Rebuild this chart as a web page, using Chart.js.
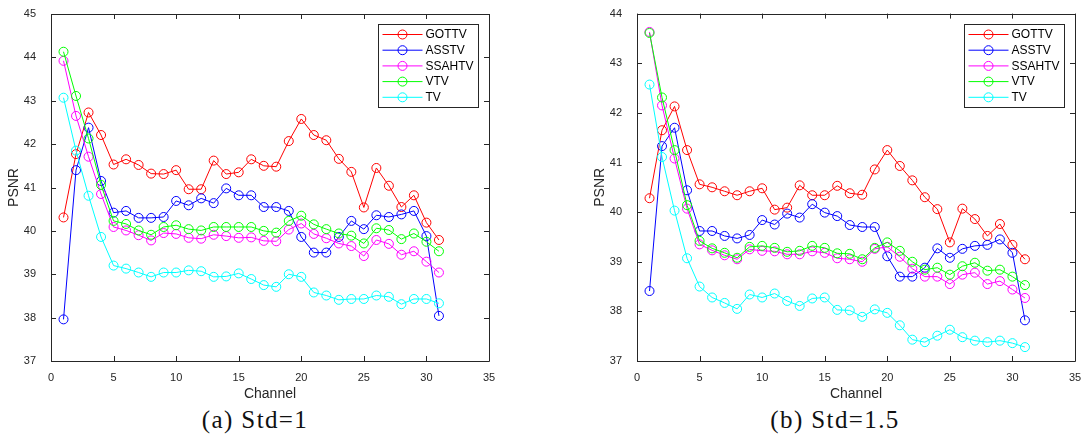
<!DOCTYPE html>
<html>
<head>
<meta charset="utf-8">
<script src="https://cdn.jsdelivr.net/npm/chart.js@4"></script>
<style>
body { margin:0; background:#fff; width:1086px; height:439px; position:relative; overflow:hidden; }
.box { position:absolute; top:0; width:543px; height:405px; }
.cap { position:absolute; top:407px; font-family:"Liberation Serif","DejaVu Serif",serif; font-size:25px; line-height:25px; letter-spacing:1.4px; color:#111; transform:translateX(-50%); white-space:nowrap; }
</style>
</head>
<body>
<div class="box" style="left:0"><canvas id="chartA"></canvas></div>
<div class="box" style="left:543px"><canvas id="chartB"></canvas></div>
<div class="cap" style="left:255px">(a) Std=1</div>
<div class="cap" style="left:835px">(b) Std=1.5</div>
<script>
var channels = [1,2,3,4,5,6,7,8,9,10,11,12,13,14,15,16,17,18,19,20,21,22,23,24,25,26,27,28,29,30,31];
var methods = ['GOTTV', 'ASSTV', 'SSAHTV', 'VTV', 'TV'];
var colors = ['#ff0000', '#0000ff', '#ff00ff', '#00ff00', '#00ffff'];
var xTicks = [0, 5, 10, 15, 20, 25, 30, 35];

// Std = 1
var gottv1  = [40.31,41.77,42.73,42.21,41.53,41.65,41.52,41.32,41.31,41.40,40.96,40.96,41.62,41.31,41.35,41.65,41.50,41.48,42.07,42.58,42.21,42.09,41.66,41.36,40.54,41.45,41.04,40.55,40.82,40.19,39.79];
var asstv1  = [37.96,41.40,42.38,41.15,40.42,40.46,40.30,40.30,40.32,40.69,40.59,40.75,40.64,40.98,40.82,40.82,40.55,40.55,40.46,39.86,39.50,39.50,39.86,40.23,40.04,40.36,40.32,40.38,40.46,39.88,38.04];
var ssahtv1 = [43.92,42.65,41.71,40.85,40.09,40.01,39.90,39.78,39.95,39.93,39.84,39.82,39.91,39.88,39.84,39.85,39.77,39.76,40.03,40.17,39.93,39.83,39.71,39.65,39.42,39.79,39.70,39.45,39.53,39.29,39.04];
var vtv1    = [44.13,43.11,42.13,41.06,40.23,40.16,40.01,39.91,40.09,40.13,40.04,40.01,40.09,40.09,40.09,40.09,40.00,39.96,40.23,40.35,40.15,40.04,39.94,39.89,39.71,40.06,40.02,39.81,39.94,39.75,39.53];
var tv1     = [43.07,41.85,40.81,39.86,39.20,39.13,39.04,38.94,39.04,39.04,39.09,39.07,38.94,38.95,39.02,38.89,38.75,38.71,39.00,38.94,38.58,38.51,38.41,38.43,38.43,38.51,38.48,38.31,38.43,38.43,38.33];
var yTicks1 = [37, 38, 39, 40, 41, 42, 43, 44, 45];

// Std = 1.5
var gottv2  = [40.28,41.65,42.13,41.25,40.56,40.50,40.42,40.34,40.42,40.48,40.05,40.09,40.54,40.34,40.34,40.53,40.38,40.35,40.86,41.25,40.93,40.64,40.30,40.06,39.39,40.07,39.86,39.52,39.76,39.34,39.05];
var asstv2  = [38.41,41.33,41.70,40.44,39.62,39.62,39.52,39.47,39.54,39.84,39.75,39.97,39.89,40.16,39.99,39.92,39.74,39.70,39.70,39.11,38.70,38.70,38.88,39.27,39.08,39.26,39.32,39.34,39.45,39.18,37.82];
var ssahtv2 = [43.63,42.15,41.08,40.07,39.35,39.23,39.13,39.05,39.25,39.22,39.21,39.15,39.15,39.21,39.18,39.07,39.05,39.00,39.26,39.30,39.10,38.86,38.70,38.70,38.55,38.74,38.78,38.55,38.61,38.44,38.27];
var vtv2    = [43.61,42.31,41.25,40.14,39.42,39.27,39.18,39.08,39.30,39.32,39.28,39.20,39.22,39.32,39.28,39.17,39.16,39.05,39.28,39.39,39.22,39.00,38.84,38.88,38.74,38.91,38.98,38.82,38.84,38.70,38.53];
var tv2     = [42.57,41.11,40.03,39.07,38.50,38.28,38.17,38.05,38.34,38.28,38.36,38.21,38.11,38.26,38.28,38.03,38.02,37.89,38.04,37.97,37.72,37.43,37.38,37.51,37.63,37.48,37.41,37.38,37.41,37.36,37.28];
var yTicks2 = [37, 38, 39, 40, 41, 42, 43, 44];

var axisColor = '#262626';
var sans = '"Liberation Sans", Arial, sans-serif';

// box around the axes with inward ticks on all four sides
var boxPlugin = {
  id: 'axesBox',
  afterDatasetsDraw: function(chart) {
    var ctx = chart.ctx, a = chart.chartArea;
    var xs = chart.scales.x, ys = chart.scales.y;
    var len = 5;
    ctx.save();
    ctx.strokeStyle = axisColor;
    ctx.lineWidth = 1;
    ctx.beginPath();
    ctx.rect(Math.round(a.left) + 0.5, Math.round(a.top) + 0.5, Math.round(a.right - a.left), Math.round(a.bottom - a.top));
    xs.ticks.forEach(function(t) {
      var px = Math.round(xs.getPixelForValue(t.value)) + 0.5;
      ctx.moveTo(px, a.bottom); ctx.lineTo(px, a.bottom - len);
      ctx.moveTo(px, a.top); ctx.lineTo(px, a.top + len);
    });
    ys.ticks.forEach(function(t) {
      var py = Math.round(ys.getPixelForValue(t.value)) + 0.5;
      ctx.moveTo(a.left, py); ctx.lineTo(a.left + len, py);
      ctx.moveTo(a.right, py); ctx.lineTo(a.right - len, py);
    });
    ctx.stroke();
    ctx.restore();
  }
};

// legend box in the upper right corner
var legendPlugin = {
  id: 'cornerLegend',
  afterDraw: function(chart) {
    var ctx = chart.ctx, a = chart.chartArea;
    var w = 100, h = 83;
    var x0 = Math.round(a.right - 11 - w) + 0.5, y0 = Math.round(a.top + 10) + 0.5;
    ctx.save();
    ctx.fillStyle = '#fff';
    ctx.fillRect(x0, y0, w, h);
    ctx.strokeStyle = axisColor;
    ctx.lineWidth = 1;
    ctx.strokeRect(x0, y0, w, h);
    ctx.font = '12px ' + sans;
    ctx.textBaseline = 'middle';
    chart.data.datasets.forEach(function(ds, i) {
      var yy = y0 + 10 + i * 15.7;
      ctx.strokeStyle = ds.borderColor;
      ctx.beginPath();
      ctx.moveTo(x0 + 4, yy); ctx.lineTo(x0 + 44, yy);
      ctx.stroke();
      ctx.beginPath();
      ctx.arc(x0 + 24, yy, 4.5, 0, Math.PI * 2);
      ctx.stroke();
      ctx.fillStyle = '#000';
      ctx.fillText(ds.label, x0 + 47, yy + 0.5);
    });
    ctx.restore();
  }
};

function makeSets(series) {
  return series.map(function(vals, i) {
    return {
      label: methods[i],
      data: channels.map(function(c, k) { return {x: c, y: vals[k]}; }),
      borderColor: colors[i],
      backgroundColor: 'transparent',
      borderWidth: 1,
      pointRadius: 4.5,
      pointBorderWidth: 1,
      pointBackgroundColor: 'transparent',
      pointBorderColor: colors[i],
      order: series.length - i,
      tension: 0
    };
  });
}

function makeChart(id, series, yTicks, pad) {
  var ctx = document.getElementById(id);
  return new Chart(ctx, {
    type: 'line',
    data: { datasets: makeSets(series) },
    options: {
      responsive: true,
      maintainAspectRatio: false,
      animation: false,
      layout: { padding: pad },
      plugins: { legend: { display: false }, tooltip: { enabled: false } },
      scales: {
        x: {
          type: 'linear',
          min: xTicks[0],
          max: xTicks[xTicks.length - 1],
          afterBuildTicks: function(s) { s.ticks = xTicks.map(function(v) { return {value: v}; }); },
          afterFit: function(s) { s.height = 44; },
          grid: { display: false },
          border: { display: false },
          ticks: { color: axisColor, font: { family: sans, size: 11 }, padding: 2, maxRotation: 0 },
          title: { display: true, text: 'Channel', color: axisColor, font: { family: sans, size: 14 }, padding: { top: 0, bottom: 2 } }
        },
        y: {
          min: yTicks[0],
          max: yTicks[yTicks.length - 1],
          afterBuildTicks: function(s) { s.ticks = yTicks.map(function(v) { return {value: v}; }); },
          afterFit: function(s) { s.width = 51; },
          grid: { display: false },
          border: { display: false },
          ticks: { color: axisColor, font: { family: sans, size: 11 }, padding: 7 },
          title: { display: true, text: 'PSNR', color: axisColor, font: { family: sans, size: 14 }, padding: { top: 5.6, bottom: 0 } }
        }
      }
    },
    plugins: [boxPlugin, legendPlugin]
  });
}

makeChart('chartA', [gottv1, asstv1, ssahtv1, vtv1, tv1], yTicks1, { left: 0, right: 54, top: 14, bottom: 0 });
makeChart('chartB', [gottv2, asstv2, ssahtv2, vtv2, tv2], yTicks2, { left: 43, right: 11, top: 13, bottom: 0 });
</script>
</body>
</html>
